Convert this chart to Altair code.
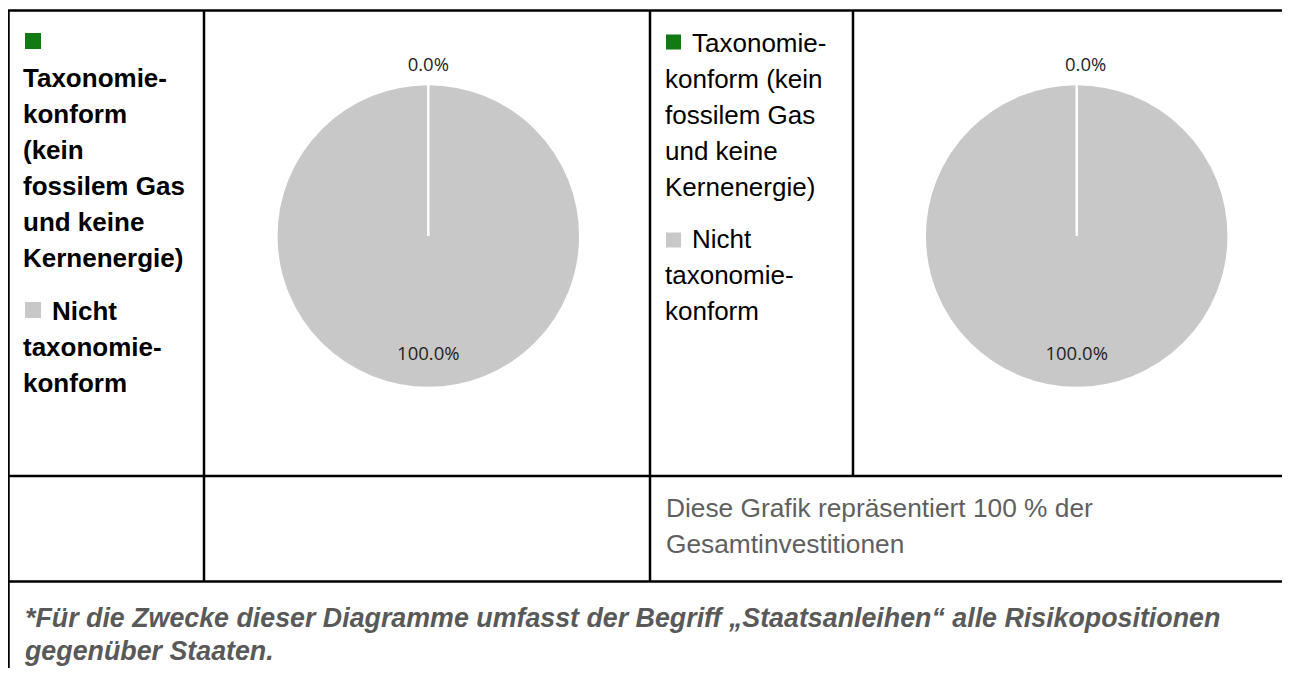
import altair as alt
import pandas as pd

# ---------------- data ----------------
categories = [
    "Taxonomiekonform (kein fossilem Gas und keine Kernenergie)",
    "Nicht taxonomiekonform",
]
pie1_values = [0.0, 100.0]   # incl. Staatsanleihen
pie2_values = [0.0, 100.0]   # excl. Staatsanleihen
colors = ["#127a12", "#c8c8c8"]

left_legend_first = ["Taxonomie-", "konform", "(kein", "fossilem Gas", "und keine", "Kernenergie)"]
left_legend_second_head = "Nicht"
left_legend_second_rest = ["taxonomie-", "konform"]
right_legend_first_head = "Taxonomie-"
right_legend_first_rest = ["konform (kein", "fossilem Gas", "und keine", "Kernenergie)"]
right_legend_second_head = "Nicht"
right_legend_second_rest = ["taxonomie-", "konform"]
note_lines = ["Diese Grafik repräsentiert 100 % der", "Gesamtinvestitionen"]
footnote_lines = [
    "*Für die Zwecke dieser Diagramme umfasst der Begriff \u201eStaatsanleihen\u201c alle Risikopositionen",
    "gegenüber Staaten.",
]

# ---------------- layout ----------------
W, H = 1274, 660
OFF = 8  # page margin


def P(v):
    return v - OFF


FONT = "Liberation Sans, Arial, sans-serif"
LABEL_FONT = "Open Sans, Lato, sans-serif"
R = 152

color_scale = alt.Scale(domain=categories, range=colors)
one = pd.DataFrame({"k": [0]})


def hline(y, x1, x2):
    return alt.Chart(one).mark_rule(color="black", strokeWidth=2.5).encode(
        x=alt.value(P(x1)), x2=alt.value(P(x2)), y=alt.value(P(y)))


def vline(x, y1, y2):
    return alt.Chart(one).mark_rule(color="black", strokeWidth=2.5).encode(
        x=alt.value(P(x)), y=alt.value(P(y1)), y2=alt.value(P(y2)))


def text_block(lines, x, y, size, weight="normal", style="normal", color="black", lh=36):
    return alt.Chart(one).mark_text(
        text=lines, align="left", baseline="alphabetic", font=FONT, fontSize=size,
        fontWeight=weight, fontStyle=style, color=color, lineHeight=lh,
    ).encode(x=alt.value(P(x)), y=alt.value(P(y)))


def square(idx, cx, cy, side):
    return alt.Chart(one).mark_square(size=side * side, opacity=1, filled=True,
                                      color=colors[idx]).encode(
        x=alt.value(P(cx)), y=alt.value(P(cy)),
    )


def pie(values, cx, cy, top_dx=0):
    df = pd.DataFrame({"cat": categories, "value": values, "order": [0, 1]}).iloc[::-1]
    base = alt.Chart(df)
    arcs = base.mark_arc(radius=R, stroke="white", strokeWidth=2.5).encode(
        theta=alt.Theta("value:Q", stack=True),
        color=alt.Color("cat:N", scale=color_scale, legend=None),
        order=alt.Order("order:Q"),
        x=alt.value(P(cx)), y=alt.value(P(cy)),
    )
    lab = base.transform_window(
        cum="sum(value)", sort=[alt.SortField("order")]
    ).transform_calculate(
        mid="datum.cum - datum.value / 2",
        lbl="format(datum.value, '.1f') + '%'",
    )
    enc = dict(
        theta=alt.Theta("mid:Q", stack=None),
        text=alt.Text("lbl:N"),
        x=alt.value(P(cx)), y=alt.value(P(cy)),
    )
    top = lab.transform_filter("datum.order == 0").mark_text(
        radius=171, font=LABEL_FONT, fontSize=18.5, color="#1f1f1f", baseline="middle", dx=top_dx
    ).encode(**enc)
    bottom = lab.transform_filter("datum.order == 1").mark_text(
        radius=118, font=LABEL_FONT, fontSize=18.5, color="#1f1f1f", baseline="middle"
    ).encode(**enc)
    return [arcs, top, bottom]


layers = []
# table grid
layers += [
    hline(10.5, 8, 1290),
    hline(476, 8, 1290),
    hline(581.5, 8, 1290),
    vline(8.5, 10, 690),
    vline(204, 10, 582),
    vline(650, 10, 582),
    vline(853, 10, 476),
]
# pies
layers += pie(pie1_values, 428.3, 236)
layers += pie(pie2_values, 1076.7, 236, top_dx=9)
# left legend (bold)
layers += [
    square(0, 33, 41, 16),
    text_block(left_legend_first, 23, 87, 26, weight="bold"),
    square(1, 33, 310, 16),
    text_block(left_legend_second_head, 52, 320, 26, weight="bold"),
    text_block(left_legend_second_rest, 23, 356, 26, weight="bold"),
]
# right legend (regular)
layers += [
    square(0, 673.5, 42, 15),
    text_block(right_legend_first_head, 692, 52, 26),
    text_block(right_legend_first_rest, 665, 88, 26),
    square(1, 673.5, 240, 15),
    text_block(right_legend_second_head, 692, 248, 26),
    text_block(right_legend_second_rest, 665, 284, 26),
]
# note + footnote
layers += [
    text_block(note_lines, 666, 517, 26.3, color="#5f5f5f"),
    text_block(footnote_lines, 25, 627, 26.8, weight="bold", style="italic", color="#595959", lh=33),
]

chart = alt.layer(*layers).properties(
    width=W, height=H, padding=0,
    autosize=alt.AutoSizeParams(type="none"),
).configure_view(stroke=None)

chart.save("out.html", embed_options={"renderer": "svg", "actions": False})
